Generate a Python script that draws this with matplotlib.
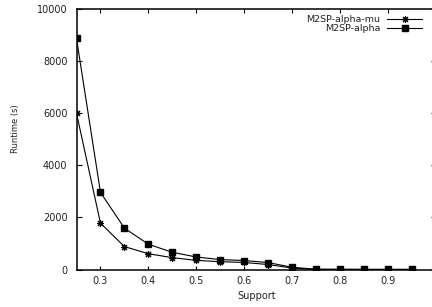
import matplotlib
matplotlib.use("Agg")
import matplotlib.pyplot as plt
from matplotlib import font_manager

support = [0.25, 0.30, 0.35, 0.40, 0.45, 0.50, 0.55, 0.60, 0.65, 0.70, 0.75, 0.80, 0.85, 0.90, 0.95]
alpha_mu = [6000, 1780, 880, 605, 455, 350, 300, 270, 190, 55, 5, 3, 2, 2, 2]
alpha = [8870, 2960, 1585, 970, 660, 480, 380, 345, 265, 85, 10, 8, 6, 5, 5]
xticks = [0.3, 0.4, 0.5, 0.6, 0.7, 0.8, 0.9]
yticks = [0, 2000, 4000, 6000, 8000, 10000]

plt.rcParams['font.family'] = ['DejaVu Sans']

fig = plt.figure(figsize=(4.32, 3.07), dpi=100)
W, H = 432, 307
left, right, top, bottom = 76.5, 436, 9, 269.5
ax = fig.add_axes([left / W, 1 - bottom / H, (right - left) / W, (bottom - top) / H])

ax.plot(support, alpha_mu, color='black', lw=0.8, marker=(8, 2, 0), ms=5,
        mew=0.8, label='M2SP-alpha-mu')
ax.plot(support, alpha, color='black', lw=0.8, marker='s', ms=4,
        label='M2SP-alpha')

ax.set_xlim(0.25, 1.0)
ax.set_ylim(0, 10000)
ax.set_xticks(xticks)
ax.set_yticks(yticks)
ax.set_xticklabels([f"{v:.1f}" for v in xticks])
ax.set_yticklabels([str(v) for v in yticks])

for s in ax.spines.values():
    s.set_linewidth(1.1)
    s.set_color('black')

ax.tick_params(axis='y', direction='in', length=3.6, width=0.8, labelsize=7,
               pad=6.5, right=True, labelcolor='#222222')
ax.tick_params(axis='x', direction='in', length=3.0, width=0.8, labelsize=7,
               pad=5, top=True, labelcolor='#222222')

ax.set_xlabel('Support', fontsize=7, color='#222222')
ax.xaxis.set_label_coords(0.5, -0.083)

# condensed font for the y label if available
names = {f.name for f in font_manager.fontManager.ttflist}
yfam = 'Liberation Sans Narrow' if 'Liberation Sans Narrow' in names else 'DejaVu Sans'
ax.set_ylabel('Runtime (s)', fontsize=6, family=yfam, color='#222222')
ax.yaxis.set_label_coords(-0.157, 0.54)

leg = ax.legend(loc='upper right', bbox_to_anchor=(422 / W, 1 - 15 / H),
                bbox_transform=fig.transFigure, frameon=False, markerfirst=False,
                fontsize=6.8, borderpad=0, borderaxespad=0, handlelength=3.7,
                handletextpad=0.7, labelspacing=0.0)
for t in leg.get_texts():
    t.set_color('#222222')

fig.savefig('out.png', dpi=100)
